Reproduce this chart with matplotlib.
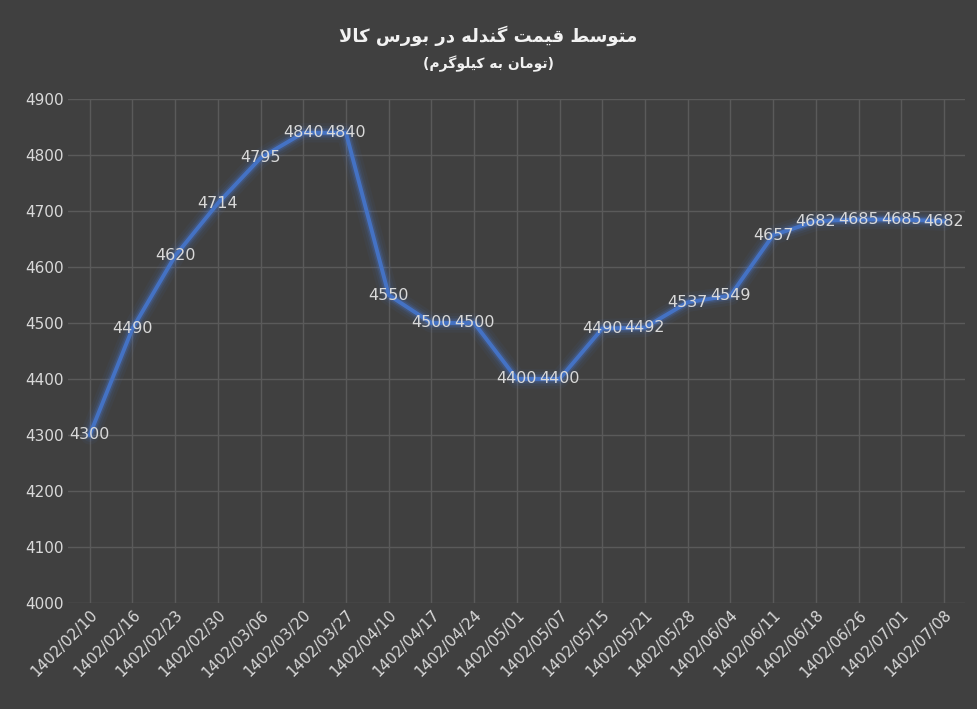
import matplotlib
matplotlib.use("Agg")
import matplotlib.pyplot as plt

dates = ["1402/02/10", "1402/02/16", "1402/02/23", "1402/02/30", "1402/03/06",
         "1402/03/20", "1402/03/27", "1402/04/10", "1402/04/17", "1402/04/24",
         "1402/05/01", "1402/05/07", "1402/05/15", "1402/05/21", "1402/05/28",
         "1402/06/04", "1402/06/11", "1402/06/18", "1402/06/26", "1402/07/01",
         "1402/07/08"]
prices = [4300, 4490, 4620, 4714, 4795, 4840, 4840, 4550, 4500, 4500,
          4400, 4400, 4490, 4492, 4537, 4549, 4657, 4682, 4685, 4685, 4682]
title = "متوسط قیمت گندله در بورس کالا"
subtitle = "(تومان به کیلوگرم)"

# simple arabic shaping (isolated, final, initial, medial)
FORMS = {
    "ا": ("\uFE8D", "\uFE8E", None, None), "ب": ("\uFE8F", "\uFE90", "\uFE91", "\uFE92"),
    "ت": ("\uFE95", "\uFE96", "\uFE97", "\uFE98"), "س": ("\uFEB1", "\uFEB2", "\uFEB3", "\uFEB4"),
    "ط": ("\uFEC1", "\uFEC2", "\uFEC3", "\uFEC4"), "و": ("\uFEED", "\uFEEE", None, None),
    "م": ("\uFEE1", "\uFEE2", "\uFEE3", "\uFEE4"), "ق": ("\uFED5", "\uFED6", "\uFED7", "\uFED8"),
    "ی": ("\uFBFC", "\uFBFD", "\uFBFE", "\uFBFF"), "گ": ("\uFB92", "\uFB93", "\uFB94", "\uFB95"),
    "ن": ("\uFEE5", "\uFEE6", "\uFEE7", "\uFEE8"), "د": ("\uFEA9", "\uFEAA", None, None),
    "ل": ("\uFEDD", "\uFEDE", "\uFEDF", "\uFEE0"), "ه": ("\uFEE9", "\uFEEA", "\uFEEB", "\uFEEC"),
    "ر": ("\uFEAD", "\uFEAE", None, None), "ک": ("\uFB8E", "\uFB8F", "\uFB90", "\uFB91"),
    "\u0000": ("\uFEFB", "\uFEFC", None, None),
}


def shape(s):
    s = s.replace("لا", "\u0000")
    out = []
    for i, c in enumerate(s):
        if c not in FORMS:
            out.append({"(": ")", ")": "("}.get(c, c))
            continue
        prev = s[i - 1] if i > 0 else ""
        nxt = s[i + 1] if i + 1 < len(s) else ""
        jp = prev in FORMS and FORMS[prev][2] is not None
        jn = nxt in FORMS and FORMS[c][2] is not None
        f = FORMS[c]
        if jp and jn:
            out.append(f[3])
        elif jp:
            out.append(f[1])
        elif jn:
            out.append(f[2])
        else:
            out.append(f[0])
    return "".join(out)[::-1]


bg = "#404040"
fig = plt.figure(figsize=(9.77, 7.09), dpi=100, facecolor=bg)
ax = fig.add_axes([0.07, 0.15, 0.918, 0.71], facecolor=bg)
x = range(len(dates))
for w, a in [(14, 0.05), (10, 0.08), (7, 0.12), (5, 0.2)]:
    ax.plot(x, prices, color="#4a7fe0", lw=w, alpha=a, solid_capstyle="round")
ax.plot(x, prices, color="#4472c4", lw=2.8)
for i, v in zip(x, prices):
    ax.text(i, v, str(v), color="#d9d9d9", fontsize=11.5, ha="center", va="center")

ax.set_ylim(4000, 4900)
ax.set_yticks(range(4000, 4901, 100))
ax.set_xlim(-0.5, len(dates) - 0.5)
ax.set_xticks(list(x))
ax.set_xticklabels(dates, rotation=45, ha="right", rotation_mode="anchor")
ax.tick_params(colors="#d9d9d9", labelsize=11, length=0)
ax.grid(axis="both", color="#5a5a5a", lw=1)
for sp in ax.spines.values():
    sp.set_visible(False)

fig.text(0.5, 0.95, shape(title), color="#f2f2f2", fontsize=13, ha="center",
         va="center", fontweight="bold", family="DejaVu Sans")
fig.text(0.5, 0.91, shape(subtitle), color="#f2f2f2", fontsize=10, ha="center",
         va="center", fontweight="bold", family="DejaVu Sans")
fig.savefig("out.png", dpi=100, facecolor=bg)
